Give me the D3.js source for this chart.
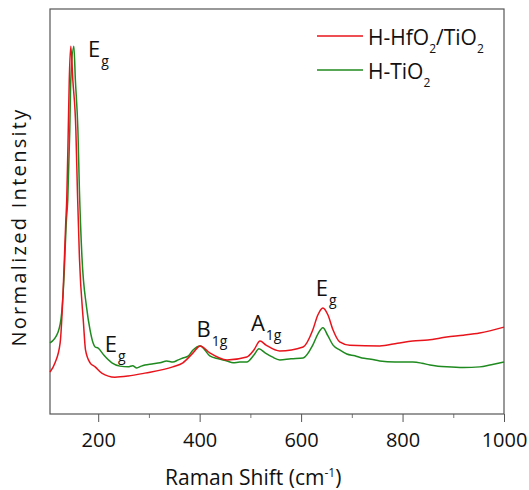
<!DOCTYPE html>
<html>
<head>
<meta charset="utf-8">
<script src="https://cdn.jsdelivr.net/npm/d3@7"></script>
<style>
  body { margin: 0; background: #fff; }
  text { font-family: "Open Sans", sans-serif; fill: #111; }
</style>
</head>
<body>
<div id="chart"></div>
<script>
// Raman shift (cm-1) and normalized intensity
var redShift = [105, 115, 125, 131, 136, 138, 141, 143, 146, 150, 156, 159, 163, 171, 175, 184, 194, 207, 233, 259, 292, 347, 367, 387, 401,
    420, 454, 493, 507, 519, 531, 558, 604, 623, 633, 643, 653, 663, 676, 696, 755, 790, 820, 850, 887, 920, 952, 1000];
var redValue = [0.114, 0.139, 0.193, 0.337, 0.519, 0.581, 0.771, 0.907, 0.999, 0.907, 0.771, 0.608, 0.426, 0.247, 0.174, 0.139, 0.128, 0.111, 0.100, 0.103, 0.111, 0.128, 0.139, 0.166, 0.185,
    0.166, 0.147, 0.155, 0.174, 0.198, 0.187, 0.171, 0.182, 0.228, 0.269, 0.288, 0.269, 0.228, 0.196, 0.187, 0.185, 0.192, 0.198, 0.201, 0.209, 0.214, 0.220, 0.236];

var greenShift = [105, 121, 128, 133, 137, 140, 144, 146, 152, 155, 160, 163, 168, 177, 184, 190, 194, 200, 211, 227, 243, 259, 268, 276, 285, 292, 306, 322, 335, 347, 358, 367, 378, 387, 401,
    420, 437, 454, 466, 479, 493, 507, 517, 529, 543, 558, 580, 604, 623, 633, 643, 653, 663, 676, 690, 706, 720, 738, 755, 785, 820, 838, 854, 870, 887, 920, 952, 975, 1000];
var greenValue = [0.193, 0.223, 0.274, 0.383, 0.519, 0.581, 0.771, 0.907, 0.999, 0.907, 0.771, 0.608, 0.426, 0.291, 0.228, 0.193, 0.182, 0.179, 0.160, 0.139, 0.130, 0.128, 0.131, 0.125, 0.130, 0.133, 0.136, 0.139, 0.144, 0.141, 0.147, 0.152, 0.158, 0.174, 0.185,
    0.158, 0.150, 0.144, 0.139, 0.141, 0.141, 0.160, 0.177, 0.166, 0.155, 0.147, 0.150, 0.152, 0.187, 0.217, 0.234, 0.212, 0.187, 0.174, 0.163, 0.158, 0.152, 0.149, 0.144, 0.141, 0.141, 0.138, 0.133, 0.130, 0.128, 0.126, 0.128, 0.134, 0.141];

var seriesNames = ["H-HfO", "H-TiO"];
var majorTicks = [200, 400, 600, 800, 1000];
var minorTicks = [300, 500, 700, 900];

// peak labels: symbol, subscript, anchor shift, anchor intensity
var peakMain = ["E", "E", "B", "A", "E"];
var peakSub = ["g", "g", "1g", "1g", "g"];
var peakShift = [180, 213, 394, 501, 629];
var peakValue = [0.970, 0.168, 0.209, 0.225, 0.320];

var width = 529, height = 490;
var plot = {left: 50, right: 504, top: 9, bottom: 414};

var svg = d3.select("#chart").append("svg")
    .attr("width", width)
    .attr("height", height);

var x = d3.scaleLinear().domain([105, 1000]).range([plot.left, plot.right]);
var y = d3.scaleLinear().domain([0, 1.1]).range([plot.bottom, plot.top]);

// x axis, major and minor ticks
var xAxis = svg.append("g")
    .attr("class", "x axis")
    .attr("transform", "translate(0," + plot.bottom + ")")
    .call(d3.axisBottom(x).tickValues(majorTicks).tickSize(8).tickPadding(11).tickSizeOuter(0).tickFormat(d3.format("d")));
xAxis.select(".domain").remove();
xAxis.selectAll("line").attr("stroke", "#555");
xAxis.selectAll("text").style("font-size", "20px").style("font-family", "'Open Sans', sans-serif").attr("fill", "#111");

svg.append("g")
    .attr("transform", "translate(0," + plot.bottom + ")")
    .call(d3.axisBottom(x).tickValues(minorTicks).tickSize(4).tickFormat(""))
    .call(g => g.select(".domain").remove())
    .selectAll("line").attr("stroke", "#777");

// frame
svg.append("rect")
    .attr("x", plot.left)
    .attr("y", plot.top)
    .attr("width", plot.right - plot.left)
    .attr("height", plot.bottom - plot.top)
    .attr("fill", "none")
    .attr("stroke", "#555")
    .attr("stroke-width", 1.2);

var line = d3.line()
    .x(d => x(d[0]))
    .y(d => y(d[1]))
    .curve(d3.curveMonotoneX);

var greenData = greenShift.map((s, i) => [s, greenValue[i]]);
var redData = redShift.map((s, i) => [s, redValue[i]]);

svg.append("path")
    .datum(greenData)
    .attr("d", line)
    .attr("fill", "none")
    .attr("stroke", "#1f8a1f")
    .attr("stroke-width", 1.5);

svg.append("path")
    .datum(redData)
    .attr("d", line)
    .attr("fill", "none")
    .attr("stroke", "#e8141c")
    .attr("stroke-width", 1.5);

// peak labels
peakMain.forEach(function(m, i) {
    var t = svg.append("text")
        .attr("x", x(peakShift[i]))
        .attr("y", y(peakValue[i]))
        .style("font-size", "22px");
    t.append("tspan").text(m);
    t.append("tspan").attr("dy", 9).attr("dx", 1).style("font-size", "14px").text(peakSub[i]);
});

// legend
var legendColors = ["#e8141c", "#1f8a1f"];
var legendY = [36, 70];
seriesNames.forEach(function(name, i) {
    svg.append("line")
        .attr("x1", 317).attr("x2", 363)
        .attr("y1", legendY[i]).attr("y2", legendY[i])
        .attr("stroke", legendColors[i])
        .attr("stroke-width", 1.5);
    var t = svg.append("text")
        .attr("x", 368)
        .attr("y", legendY[i] + 9)
        .style("font-size", "21px");
    t.append("tspan").text(name);
    t.append("tspan").attr("dy", 8).style("font-size", "12px").text("2");
    if (i === 0) {
        t.append("tspan").attr("dy", -8).text("/TiO");
        t.append("tspan").attr("dy", 8).style("font-size", "12px").text("2");
    }
});

// axis titles
var xt = svg.append("text")
    .attr("x", 165)
    .attr("y", 485)
    .style("font-size", "21px");
xt.append("tspan").text("Raman Shift (cm");
xt.append("tspan").attr("dy", -8).style("font-size", "12px").text("-1");
xt.append("tspan").attr("dy", 8).text(")");

svg.append("text")
    .attr("transform", "translate(26,227) rotate(-90)")
    .attr("text-anchor", "middle")
    .style("font-size", "20px")
    .style("letter-spacing", "2.3px")
    .text("Normalized Intensity");
</script>
</body>
</html>
